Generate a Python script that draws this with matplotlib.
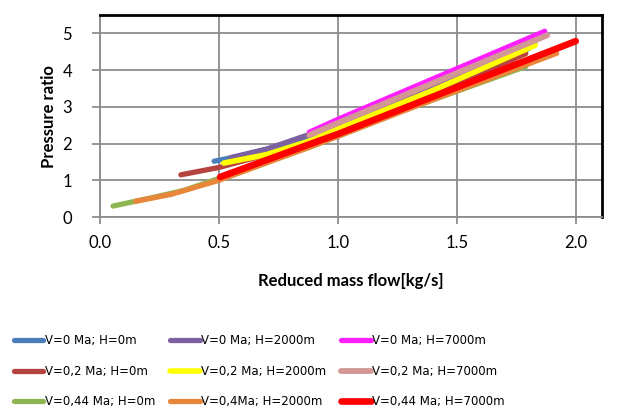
import matplotlib
matplotlib.use("Agg")
import matplotlib.pyplot as plt

# series
labels = ["V=0 Ma; H=0m", "V=0,2 Ma; H=0m", "V=0,44 Ma; H=0m",
          "V=0 Ma; H=2000m", "V=0,2 Ma; H=2000m", "V=0,4Ma; H=2000m",
          "V=0 Ma; H=7000m", "V=0,2 Ma; H=7000m", "V=0,44 Ma; H=7000m"]

x_v0_h0 = [0.48, 0.60, 0.88, 1.30, 1.80]
y_v0_h0 = [1.52, 1.68, 2.15, 3.20, 4.58]

x_v02_h0 = [0.34, 0.50, 0.70, 1.00, 1.40, 1.79]
y_v02_h0 = [1.15, 1.35, 1.70, 2.30, 3.36, 4.45]

x_v044_h0 = [0.055, 0.20, 0.35, 0.50, 0.90, 1.30, 1.79]
y_v044_h0 = [0.30, 0.50, 0.72, 1.05, 1.95, 2.96, 4.10]

x_v0_h2000 = [0.55, 0.70, 0.88, 1.30, 1.83]
y_v0_h2000 = [1.62, 1.85, 2.25, 3.28, 4.70]

x_v02_h2000 = [0.52, 0.70, 0.88, 1.00, 1.40, 1.83]
y_v02_h2000 = [1.47, 1.70, 2.07, 2.40, 3.45, 4.68]

x_v04_h2000 = [0.15, 0.30, 0.50, 0.88, 1.30, 1.92]
y_v04_h2000 = [0.43, 0.62, 1.00, 1.90, 2.95, 4.46]

x_v0_h7000 = [0.88, 1.00, 1.87]
y_v0_h7000 = [2.31, 2.66, 5.06]

x_v02_h7000 = [0.88, 1.00, 1.88]
y_v02_h7000 = [2.23, 2.56, 4.95]

x_v044_h7000 = [0.505, 0.88, 1.00, 1.50, 2.00]
y_v044_h7000 = [1.09, 1.98, 2.26, 3.53, 4.79]

xs = [x_v0_h0, x_v02_h0, x_v044_h0, x_v0_h2000, x_v02_h2000, x_v04_h2000,
      x_v0_h7000, x_v02_h7000, x_v044_h7000]
ys = [y_v0_h0, y_v02_h0, y_v044_h0, y_v0_h2000, y_v02_h2000, y_v04_h2000,
      y_v0_h7000, y_v02_h7000, y_v044_h7000]

colors = ["#4A7EBB", "#B5433F", "#8DB552", "#7D60A0", "#FFFF00", "#E8873A",
          "#FF1EFF", "#D39896", "#FF0000"]
widths = [3.8, 3.8, 3.8, 3.8, 4.0, 3.8, 3.8, 4.2, 4.8]

fig = plt.figure(figsize=(6.41, 4.19), dpi=100)
ax = fig.add_axes([0.156, 0.482, 0.783, 0.482])

for i in range(len(xs)):
    ax.plot(xs[i], ys[i], color=colors[i], lw=widths[i],
            solid_capstyle="round", label=labels[i])

ax.set_xlim(0, 2.11)
ax.set_ylim(0, 5.5)
ax.set_xticks([0.0, 0.5, 1.0, 1.5, 2.0])
ax.set_xticklabels(["0.0", "0.5", "1.0", "1.5", "2.0"])
ax.set_yticks([0, 1, 2, 3, 4, 5])

ax.grid(True, color="#8c8c8c", lw=1.3)
ax.set_axisbelow(True)
for side in ["top", "right"]:
    ax.spines[side].set_color("black")
    ax.spines[side].set_linewidth(2)
for side in ["left", "bottom"]:
    ax.spines[side].set_color("#8c8c8c")
    ax.spines[side].set_linewidth(1.3)
ax.tick_params(colors="#8c8c8c", labelcolor="black", labelsize=12,
               width=1.3, labelfontfamily="Lato")
ax.tick_params(axis="x", length=5, pad=8)
ax.tick_params(axis="y", length=6, pad=14)

ax.set_xlabel("Reduced mass flow[kg/s]", family="Lato", fontweight="bold",
              fontsize=12, labelpad=16)
ax.set_ylabel("Pressure ratio", family="Lato", fontweight="bold",
              fontsize=12, labelpad=4)

fig.legend(loc="lower left", bbox_to_anchor=(0.005, 0.0), ncol=3,
           frameon=False, fontsize=8.5, handlelength=2.5, handletextpad=0.1,
           labelspacing=1.5, columnspacing=1.3)

fig.savefig("out.png", dpi=100)
